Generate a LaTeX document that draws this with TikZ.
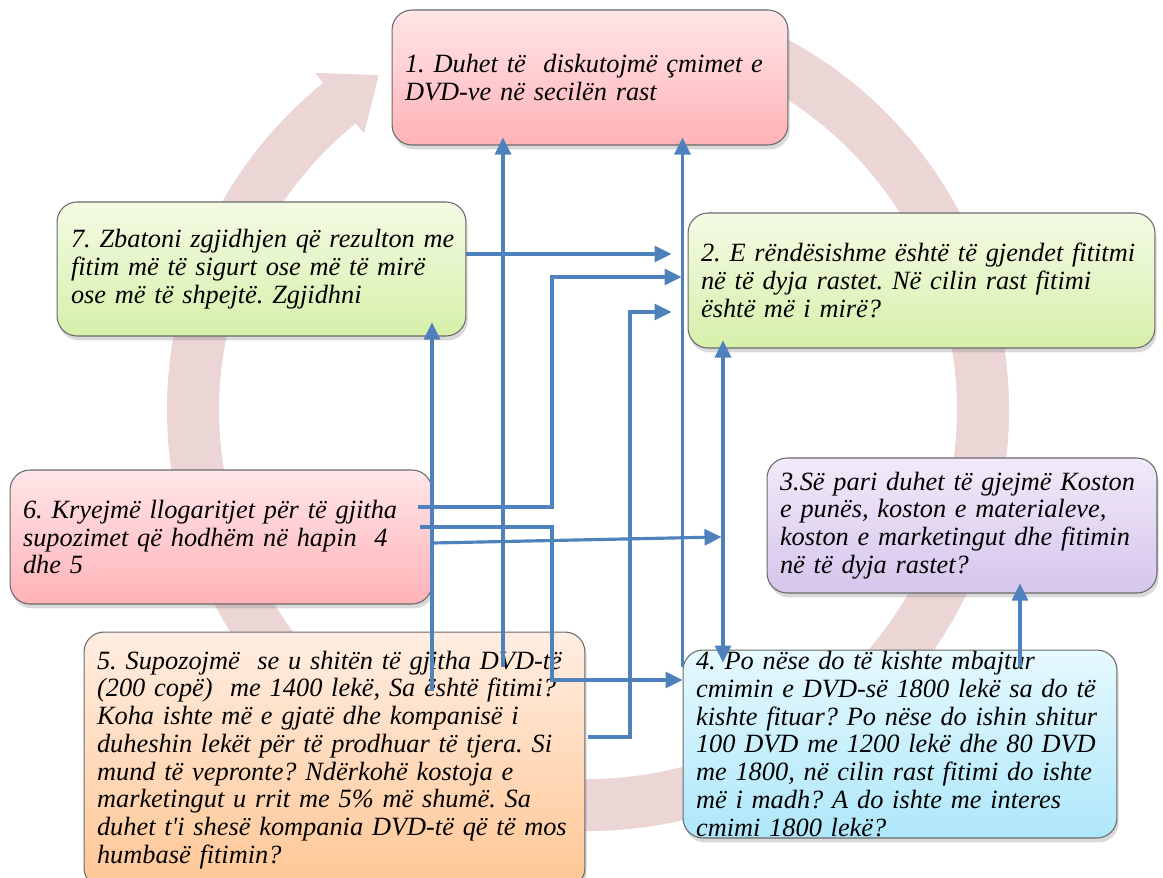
\documentclass[tikz,border=0pt]{standalone}
\usepackage{fontspec}
\setmainfont{Liberation Serif}
\usetikzlibrary{arrows.meta, calc, shadows}
\definecolor{ringpink}{RGB}{236,213,213}
\definecolor{linkblue}{RGB}{79,129,189}
\definecolor{boxline}{RGB}{105,105,105}
\definecolor{pinktop}{RGB}{255,230,232}
\definecolor{pinkbot}{RGB}{255,178,183}
\definecolor{greentop}{RGB}{243,251,228}
\definecolor{greenbot}{RGB}{214,240,170}
\definecolor{lilactop}{RGB}{242,234,249}
\definecolor{lilacbot}{RGB}{213,197,236}
\definecolor{orangetop}{RGB}{255,238,226}
\definecolor{orangebot}{RGB}{255,198,148}
\definecolor{bluetop}{RGB}{230,249,254}
\definecolor{bluebot}{RGB}{174,231,250}

\tikzset{
  stage/.style={draw=boxline, line width=0.6pt, rounded corners=0.4cm,
    align=left, inner xsep=0.26cm, inner ysep=0pt,
    font=\fontsize{15}{15.8}\selectfont\itshape,
    drop shadow={shadow xshift=1pt, shadow yshift=-2.5pt, opacity=0.3}},
  pinkstage/.style={stage, top color=pinktop, bottom color=pinkbot},
  greenstage/.style={stage, top color=greentop, bottom color=greenbot},
  lilacstage/.style={stage, top color=lilactop, bottom color=lilacbot},
  orangestage/.style={stage, top color=orangetop, bottom color=orangebot},
  bluestage/.style={stage, top color=bluetop, bottom color=bluebot},
  link/.style={draw=linkblue, line width=1.8pt, ->},
}

\begin{document}
\frenchspacing
\begin{tikzpicture}[x=0.02cm, y=-0.02cm, >={Triangle[length=0.34cm,width=0.32cm]}]
\useasboundingbox (0,0) rectangle (1163,877);

% big circular arrow behind the boxes
\coordinate (hub) at (588,410);
\fill[ringpink] ($(hub)+(68:8.42cm)$) arc[start angle=68, end angle=-231, radius=8.42cm]
  -- ($(hub)+(129:8.68cm)$) -- ($(hub)+(122:7.9cm)$) -- ($(hub)+(129:7.12cm)$)
  -- ($(hub)+(129:7.38cm)$) arc[start angle=129, end angle=428, radius=7.38cm] -- cycle;

% the seven steps
\node[pinkstage, text width=7.4cm, minimum height=2.7cm] (discuss) at (590,77.5)
  {1. Duhet të~~diskutojmë çmimet e\\ DVD-ve në secilën rast};
\node[greenstage, text width=8.82cm, minimum height=2.7cm] (profit) at (921.5,280.5)
  {2. E rëndësishme është të gjendet fititmi\\ në të dyja rastet. Në cilin rast fitimi\\ është më i mirë?};
\node[lilacstage, text width=7.28cm, minimum height=2.7cm] (costs) at (962,525.5)
  {3.Së pari duhet të gjejmë Koston\\ e punës, koston e materialeve,\\ koston e marketingut dhe fitimin\\ në të dyja rastet?};
\node[bluestage, text width=8.16cm, minimum height=3.76cm, inner ysep=-0.2cm] (cases) at (900,744)
  {4. Po nëse do të kishte mbajtur\\ cmimin e DVD-së 1800 lekë sa do të\\ kishte fituar? Po nëse do ishin shitur\\ 100 DVD me 1200 lekë dhe 80 DVD\\ me 1800, në cilin rast fitimi do ishte\\ më i madh? A do ishte me interes\\ cmimi 1800 lekë?};
\node[orangestage, text width=9.5cm, minimum height=5.12cm] (suppose) at (334.5,760)
  {5. Supozojmë~~se u shitën të gjitha DVD-të\\ (200 copë)~~me 1400 lekë, Sa është fitimi?\\ Koha ishte më e gjatë dhe kompanisë i\\ duheshin lekët për të prodhuar të tjera. Si\\ mund të vepronte? Ndërkohë kostoja e\\ marketingut u rrit me 5\% më shumë. Sa\\ duhet t\textquotesingle i shesë kompania DVD-të që të mos\\ humbasë fitimin?};
\node[pinkstage, text width=7.92cm, minimum height=2.68cm] (compute) at (221,537)
  {6. Kryejmë llogaritjet për të gjitha\\ supozimet që hodhëm në hapin~~4\\ dhe 5};
\node[greenstage, text width=7.78cm, inner xsep=0.2cm, minimum height=2.68cm] (apply) at (261.5,269)
  {\hspace*{0.08cm}7. Zbatoni zgjidhjen që rezulton me\\ \hspace*{0.08cm}fitim më të sigurt ose më të mirë\\ \hspace*{0.08cm}ose më të shpejtë. Zgjidhni};

% connectors
\draw[link, shorten >=0.32cm] (apply.east |- 0,254) -- (profit.west |- 0,254);
\draw[link, shorten >=0.12cm] ($(compute.east |- 0,507)+(-14,0)$) -- (552,507) |- (profit.west |- 0,277);
\draw[link] ($(compute.east |- 0,527)+(-12,0)$) -- (552,527) |- (cases.west |- 0,680);
\draw[link, shorten >=0.9cm] (compute.east |- 0,543) -- (costs.west |- 0,536);
\draw[link] ($(suppose.north -| 432,0)+(0,59)$) -- ($(apply.south -| 432,0)+(0,-14)$);
\draw[link] ($(suppose.north -| 503,0)+(0,35)$) -- ($(discuss.south -| 503,0)+(0,-8)$);
\draw[link, shorten >=0.32cm] ($(suppose.east |- 0,737)+(3,0)$) -- (630,737) |- (profit.west |- 0,312);
\draw[link] ($(cases.north west)+(0,17)$) -- ($(discuss.south -| cases.west)+(0,-8)$);
\draw[link, <->] ($(profit.south -| 723,0)+(0,-8)$) -- ($(cases.north -| 723,0)+(0,13)$);
\draw[link] ($(cases.north -| 1020,0)+(0,17)$) -- ($(costs.south -| 1020,0)+(0,-10)$);
\end{tikzpicture}
\end{document}
